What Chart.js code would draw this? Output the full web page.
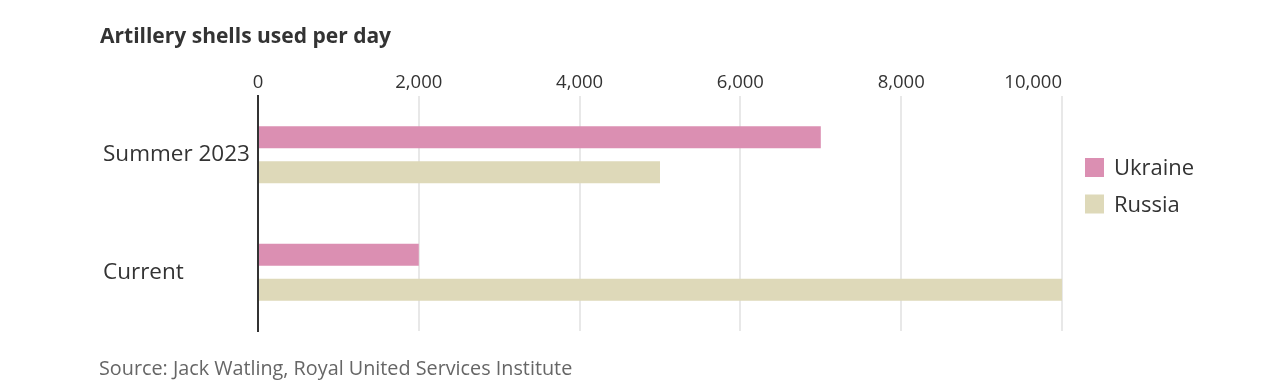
<!DOCTYPE html>
<html>
<head>
<meta charset="utf-8">
<script src="https://cdn.jsdelivr.net/npm/chart.js@4/dist/chart.umd.min.js"></script>
<style>
  html, body { margin: 0; padding: 0; background: #fff; }
  #wrap { position: relative; width: 1282px; height: 386px; }
</style>
</head>
<body>
<div id="wrap"><canvas id="c" width="1282" height="386"></canvas></div>
<script>
const titleText = 'Artillery shells used per day';
const sourceText = 'Source: Jack Watling, Royal United Services Institute';
const categories = ['Summer 2023', 'Current'];
const seriesNames = ['Ukraine', 'Russia'];
const ukraine = [7000, 2000];
const russia = [5000, 10000];
const tickValues = [0, 2000, 4000, 6000, 8000, 10000];
const colors = ['#db8fb2', '#ded9b9'];

const textPlugin = {
  id: 'texts',
  beforeDraw(chart) {
    const sx = chart.scales.x;
    const items = sx.getLabelItems(chart.chartArea);
    if (items.length) items[items.length - 1].options.textAlign = 'right';
  },
  afterDraw(chart) {
    const ctx = chart.ctx;
    ctx.save();
    ctx.textBaseline = 'middle';
    ctx.textAlign = 'left';
    ctx.fillStyle = '#333';
    ctx.font = "bold 21px 'Open Sans'";
    ctx.fillText(titleText, 100, 37);
    ctx.fillStyle = '#666';
    ctx.font = "19.8px 'Open Sans'";
    ctx.fillText(sourceText, 99, 369);
    // legend
    chart.data.datasets.forEach((ds, i) => {
      const y = 167.5 + i * 36.5;
      ctx.fillStyle = ds.backgroundColor;
      ctx.fillRect(1085, y - 9.5, 19, 19);
      ctx.fillStyle = '#333';
      ctx.font = "22px 'Open Sans'";
      ctx.fillText(ds.label, 1114, y + 1.5);
    });
    ctx.restore();
  }
};

new Chart(document.getElementById('c'), {
  type: 'bar',
  data: {
    labels: categories,
    datasets: [
      { label: seriesNames[0], data: ukraine, backgroundColor: colors[0] },
      { label: seriesNames[1], data: russia, backgroundColor: colors[1] }
    ]
  },
  options: {
    indexAxis: 'y',
    responsive: false,
    animation: false,
    devicePixelRatio: 1,
    layout: { padding: { left: 103, right: 220, top: 60, bottom: 55 } },
    datasets: { bar: { categoryPercentage: 0.596, barPercentage: 0.63 } },
    plugins: { legend: { display: false }, tooltip: { enabled: false } },
    scales: {
      x: {
        position: 'top',
        min: 0, max: 10000,
        afterBuildTicks(s) { s.ticks = tickValues.map(v => ({ value: v })); },
        afterFit(s) { s.height = 36; },
        ticks: {
          padding: 2,
          color: '#333',
          font: { family: "'Open Sans'", size: 18.5 },
          callback: v => v.toLocaleString('en-US'),
          maxRotation: 0
        },
        grid: { color: '#e8e8e8', lineWidth: 2, drawTicks: false },
        border: { display: false }
      },
      y: {
        afterFit(s) { s.width = 155; },
        ticks: {
          crossAlign: 'far',
          color: '#333',
          font: { family: "'Open Sans'", size: 22.5 },
          padding: 8
        },
        grid: { display: false, drawTicks: false },
        border: { display: true, color: '#333', width: 2 }
      }
    }
  },
  plugins: [textPlugin]
});
</script>
</body>
</html>
